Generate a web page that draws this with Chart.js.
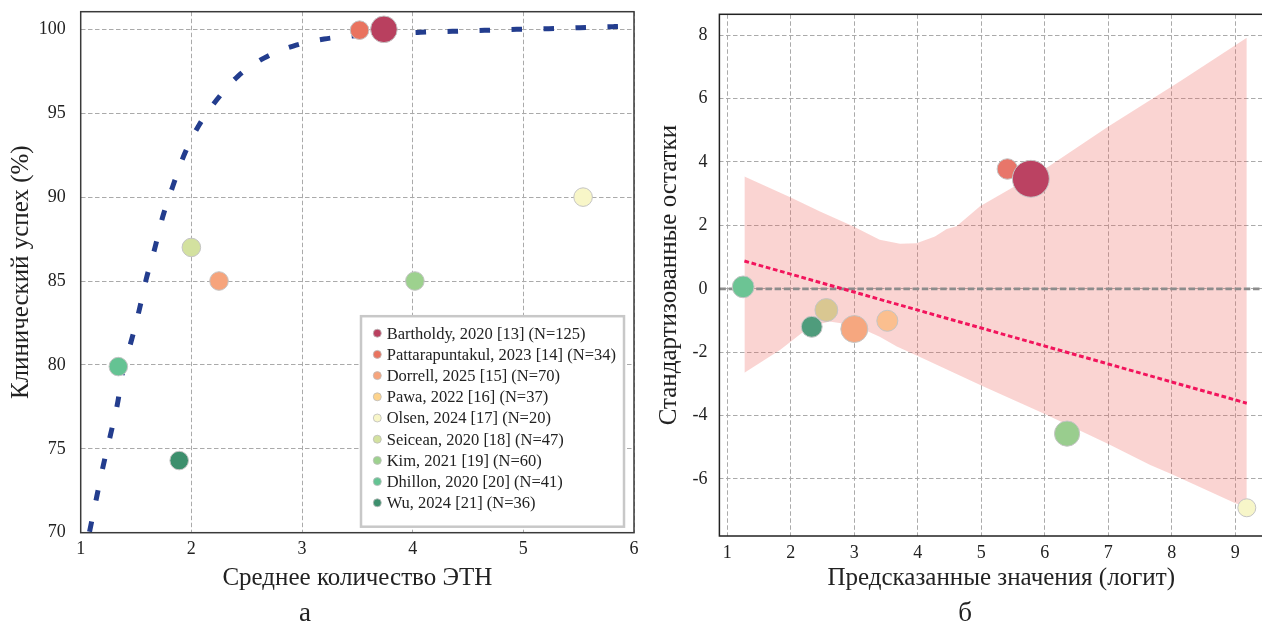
<!DOCTYPE html>
<html>
<head>
<meta charset="utf-8">
<script src="https://cdn.jsdelivr.net/npm/chart.js@4.4.0/dist/chart.umd.min.js"></script>
<style>
  html, body { margin: 0; padding: 0; background: #fff; overflow: hidden; }
  body { width: 1262px; height: 622px; position: relative; }
  canvas { position: absolute; top: 0; }
  #left { left: 0; }
  #right { left: 640px; }
  .tag { position: absolute; top: 597px; width: 40px; text-align: center; line-height: 34px;
         font: 27px "Liberation Serif", serif; color: #222; }
</style>
</head>
<body>
<canvas id="left" width="640" height="600"></canvas>
<canvas id="right" width="650" height="600"></canvas>
<div class="tag" style="left:285px">а</div>
<div class="tag" style="left:945px">б</div>
<script>
// studies (same order as the legend)
const studies = ['Bartholdy, 2020 [13]', 'Pattarapuntakul, 2023 [14]', 'Dorrell, 2025 [15]', 'Pawa, 2022 [16]',
  'Olsen, 2024 [17]', 'Seicean, 2020 [18]', 'Kim, 2021 [19]', 'Dhillon, 2020 [20]', 'Wu, 2024 [21]'];
const sampleSizes = [125, 34, 70, 37, 20, 47, 60, 41, 36];

// panel a: mean number of sessions vs clinical success (Pawa is not drawn on this panel)
const meanSessions = [3.74, 3.52, 2.25, null, 5.54, 2.0, 4.02, 1.34, 1.89];
const successPct = [100, 99.95, 85, null, 90, 87, 85, 79.9, 74.3];

// panel a: fitted curve
const curveX = [1.08, 1.145, 1.205, 1.27, 1.333, 1.38, 1.46, 1.53, 1.59, 1.67, 1.74, 1.83, 1.94, 2.07,
  2.23, 2.42, 2.66, 2.92, 3.2, 3.45, 4.07, 4.36, 4.65, 4.94, 5.23, 5.51, 5.81, 6.0];
const curveY = [70.05, 72.15, 74.03, 75.86, 77.71, 79.6, 81.5, 83.3, 85.06, 86.96, 88.8, 90.6, 92.6, 94.3,
  95.8, 97.2, 98.3, 99.0, 99.42, 99.6, 99.82, 99.88, 99.94, 100.0, 100.04, 100.1, 100.16, 100.2];

// panel b: predicted logit vs standardized residuals
const predictedLogit = [5.78, 5.41, 3.0, 3.52, 9.18, 2.56, 6.35, 1.25, 2.33];
const stdResiduals = [3.47, 3.78, -1.27, -1.01, -6.91, -0.67, -4.57, 0.06, -1.2];

// panel b: confidence band and trend
const bandUpperX = [1.27, 2.0, 2.46, 2.98, 3.4, 3.72, 3.98, 4.27, 4.455, 4.61, 4.98, 5.5, 6.06, 7.0, 8.13, 9.18];
const bandUpperY = [3.54, 2.88, 2.44, 1.97, 1.55, 1.42, 1.44, 1.65, 1.89, 1.97, 2.6, 3.2, 3.86, 5.12, 6.55, 7.92];
const bandLowerX = [1.27, 1.83, 2.3, 2.61, 3.0, 3.4, 3.67, 4.0, 5.0, 6.0, 7.0, 7.66, 8.0, 9.0, 9.18];
const bandLowerY = [-2.65, -1.93, -1.2, -1.03, -1.15, -1.51, -1.82, -2.12, -3.05, -3.95, -4.9, -5.56, -5.85, -6.77, -6.87];
const trendX = [1.27, 9.18];
const trendY = [0.875, -3.61];

// tick labels
const leftXTicks = [1, 2, 3, 4, 5, 6];
const leftYTicks = [70, 75, 80, 85, 90, 95, 100];
const rightXTicks = [1, 2, 3, 4, 5, 6, 7, 8, 9];
const rightYTicks = [-6, -4, -2, 0, 2, 4, 6, 8];

// colours
const leftColors = ['#b9405f', '#e9735f', '#f6a47c', '#fdd38c', '#f8f6c8', '#d3e19f', '#9dd18e', '#64c393', '#3d8f6d'];
const rightColors = ['#bb4262', '#e8766a', '#f6a77f', '#fbbf8f', '#f7f6c9', '#d9c791', '#99cd8e', '#6cc494', '#4f9c7c'];

const pts = (xs, ys) => xs.map((x, i) => ({ x, y: ys[i] }));
const leftR = n => 9.3 + Math.max(0, n - 70) * 0.073;
const rightR = n => 7.2 + n * 0.09;

Chart.defaults.font.family = '"Liberation Serif", "Times New Roman", serif';
Chart.defaults.color = '#222';

const frame = {
  id: 'frame',
  afterDraw(chart, args, opts) {
    const { ctx, chartArea: a } = chart;
    ctx.save();
    ctx.strokeStyle = opts.color;
    ctx.lineWidth = opts.width;
    ctx.strokeRect(a.left, a.top, a.right - a.left, a.bottom - a.top);
    ctx.restore();
  }
};

const legendBox = {
  id: 'legendBox',
  afterDatasetsDraw(chart) {
    const { ctx, chartArea } = chart;
    const items = chart.data.datasets.filter(d => d.study);
    const w = 263, h = 210.5, rowH = 21.2;
    const x0 = chartArea.right - 10 - w;
    const y0 = chartArea.bottom - 6 - h;
    ctx.save();
    ctx.fillStyle = '#fff';
    ctx.fillRect(x0, y0, w, h);
    ctx.strokeStyle = '#c8c8c8';
    ctx.lineWidth = 2.5;
    ctx.strokeRect(x0, y0, w, h);
    ctx.font = '16.5px "Liberation Serif"';
    ctx.textBaseline = 'middle';
    items.forEach((d, i) => {
      const cy = y0 + 17 + i * rowH;
      ctx.beginPath();
      ctx.arc(x0 + 16.3, cy, 4, 0, Math.PI * 2);
      ctx.fillStyle = d.backgroundColor;
      ctx.fill();
      ctx.lineWidth = 0.8;
      ctx.strokeStyle = '#bbb';
      ctx.stroke();
      ctx.fillStyle = '#222';
      ctx.fillText(d.label, x0 + 25.7, cy + 1);
    });
    ctx.restore();
  }
};

function axis(min, max, tickVals, size, tickPad, title, titlePad, isX) {
  return {
    type: 'linear', min, max,
    afterBuildTicks: s => { s.ticks = tickVals.map(v => ({ value: v })); },
    afterFit: s => {
      if (isX) s.height = size; else s.width = size;
      // keep the plot area where the layout padding puts it
      s.paddingTop = s.paddingBottom = s.paddingLeft = s.paddingRight = 0;
    },
    grid: { color: '#aaaaaa', lineWidth: 1, drawTicks: false },
    border: { display: false, dash: [4.5, 2.5] },
    ticks: { font: { size: 18 }, padding: tickPad, color: '#222' },
    title: { display: true, text: title, font: { size: 25 }, color: '#222', padding: titlePad }
  };
}

// panel a
const leftSets = studies.map((s, i) => ({
  type: 'bubble',
  study: true,
  label: `${s} (N=${sampleSizes[i]})`,
  data: meanSessions[i] == null ? [] : [{ x: meanSessions[i], y: successPct[i], r: leftR(sampleSizes[i]) }],
  backgroundColor: leftColors[i],
  borderColor: '#c4c4c4',
  borderWidth: 1,
  order: 0
}));
leftSets.push({
  type: 'line',
  data: pts(curveX, curveY),
  borderColor: '#233d8e',
  borderWidth: 5,
  borderDash: [10.5, 21.5],
  borderCapStyle: 'butt',
  pointRadius: 0,
  cubicInterpolationMode: 'monotone',
  fill: false,
  order: 1
});

new Chart(document.getElementById('left'), {
  type: 'bubble',
  data: { datasets: leftSets },
  options: {
    responsive: false,
    animation: false,
    layout: { autoPadding: false, padding: { top: 11.7, right: 6, left: 0, bottom: 0 } },
    plugins: {
      legend: { display: false },
      tooltip: { enabled: false },
      frame: { color: '#3a3a3a', width: 1.5 }
    },
    scales: {
      x: axis(1, 6, leftXTicks, 67.3, 6, 'Среднее количество ЭТН', { top: 0, bottom: 7 }, true),
      y: axis(70, 101.05, leftYTicks, 80.7, 15, 'Клинический успех (%)', { top: 6, bottom: 0 }, false)
    }
  },
  plugins: [frame, legendBox]
});

// panel b
const xMinB = 0.876, xMaxB = 9.75;
const rightSets = studies.map((s, i) => ({
  type: 'bubble',
  label: s,
  data: [{ x: predictedLogit[i], y: stdResiduals[i], r: rightR(sampleSizes[i]) }],
  backgroundColor: rightColors[i],
  borderColor: '#c4c4c4',
  borderWidth: 1,
  order: 0
}));
rightSets.push({
  type: 'line',
  data: pts(trendX, trendY),
  borderColor: '#f2145c',
  borderWidth: 3,
  borderDash: [4.7, 2.7],
  pointRadius: 0,
  fill: false,
  order: 1
});
rightSets.push({
  type: 'line',
  data: [{ x: xMinB, y: 0 }, { x: xMaxB, y: 0 }],
  borderColor: '#8c8c8c',
  borderWidth: 2.8,
  borderDash: [6.5, 2.7],
  pointRadius: 0,
  fill: false,
  order: 2
});
rightSets.push({
  type: 'line',
  data: pts(bandUpperX, bandUpperY),
  borderWidth: 0,
  pointRadius: 0,
  backgroundColor: 'rgba(238, 95, 90, 0.27)',
  fill: '+1',
  order: 3
});
rightSets.push({
  type: 'line',
  data: pts(bandLowerX, bandLowerY),
  borderWidth: 0,
  pointRadius: 0,
  fill: false,
  order: 3
});

new Chart(document.getElementById('right'), {
  type: 'bubble',
  data: { datasets: rightSets },
  options: {
    responsive: false,
    animation: false,
    layout: { autoPadding: false, padding: { top: 14.3, right: 7, left: 0, bottom: 0 } },
    plugins: {
      legend: { display: false },
      tooltip: { enabled: false },
      frame: { color: '#222', width: 1.5 }
    },
    scales: {
      x: axis(xMinB, xMaxB, rightXTicks, 64, 6, 'Предсказанные значения (логит)', { top: 0, bottom: 7 }, true),
      y: axis(-7.8, 8.66, rightYTicks, 79.4, 12, 'Стандартизованные остатки', { top: 14.8, bottom: 0 }, false)
    }
  },
  plugins: [frame]
});
</script>
</body>
</html>
